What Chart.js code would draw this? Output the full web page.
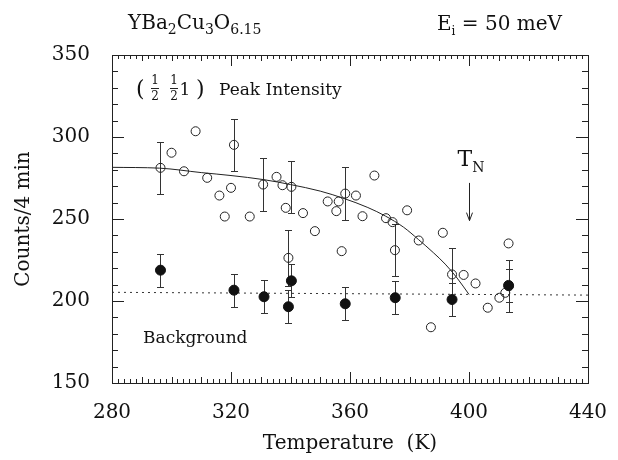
<!DOCTYPE html>
<html>
<head>
<meta charset="utf-8">
<script src="https://cdn.jsdelivr.net/npm/chart.js@4"></script>
<style>
  html, body { margin: 0; padding: 0; background: #fff; }
</style>
</head>
<body>
<canvas id="myChart" width="618" height="460"></canvas>
<script>
// Peak intensity (open circles)
const openT = [296.3, 300.0, 304.2, 308.1, 312.0, 316.1, 317.9, 320.0, 321.0, 326.3,
  330.8, 335.3, 337.3, 338.4, 339.3, 340.3, 344.2, 348.2, 352.5, 355.4,
  356.2, 357.2, 358.4, 362.0, 364.2, 368.2, 372.1, 374.3, 375.1, 379.2,
  383.1, 387.2, 391.2, 394.3, 398.2, 402.2, 406.3, 410.2, 412.2, 413.3, 413.4];
const openCounts = [281.2, 290.4, 279.1, 303.5, 275.1, 264.3, 251.5, 269.0, 295.2, 251.5,
  271.0, 275.7, 270.6, 256.8, 226.3, 269.6, 253.6, 242.6, 260.7, 254.8,
  260.7, 230.4, 265.5, 264.3, 251.7, 276.5, 250.5, 248.1, 231.0, 255.3,
  236.9, 184.0, 241.6, 216.2, 215.9, 210.7, 195.9, 202.0, 205.0, 235.1, 209.0];
const openErr = [16, 0, 0, 0, 0, 0, 0, 0, 16, 0,
  16, 0, 0, 0, 17, 16, 0, 0, 0, 0,
  0, 0, 16, 0, 0, 0, 0, 0, 16, 0,
  0, 0, 0, 16, 0, 0, 0, 0, 0, 0, 16];

// Background (filled circles)
const bgT = [296.3, 321.0, 331.1, 339.3, 340.3, 358.4, 375.2, 394.3, 413.3];
const bgCounts = [218.8, 206.6, 202.6, 196.5, 212.3, 198.3, 202.0, 200.9, 209.5];
const bgErr = [10, 10, 10, 10, 10, 10, 10, 10, 10];

// Solid fit line
const fitT = [280, 296, 310, 320, 331, 340, 350, 358, 366, 372, 378, 383, 388, 392, 396, 400];
const fitCounts = [281.5, 281.0, 278.3, 276.5, 274.0, 271.0, 267.0, 262.5, 257.0, 251.7,
  245.0, 237.5, 229.5, 222.5, 214.0, 204.0];

// Dotted background level
const baseT = [280, 440];
const baseCounts = [205.3, 203.6];

// T_N marker
const tN = 400;
const arrowCounts = [272, 249];

const serif = '"DejaVu Serif", serif';

function runText(ctx, x, base, parts) {
  parts.forEach(([s, size, dy]) => {
    ctx.font = size + 'px ' + serif;
    ctx.fillText(s, x, base + dy);
    x += ctx.measureText(s).width;
  });
}

const decor = {
  id: 'decor',
  beforeDatasetsDraw(chart) {
    const {ctx, scales: {x, y}} = chart;
    ctx.save();
    ctx.strokeStyle = '#333';
    ctx.lineWidth = 1;
    const bars = (ts, vs, es) => {
      ts.forEach((t, i) => {
        if (!es[i]) return;
        const px = Math.round(x.getPixelForValue(t)) + 0.5;
        const top = Math.round(y.getPixelForValue(vs[i] + es[i])) + 0.5;
        const bot = Math.round(y.getPixelForValue(vs[i] - es[i])) + 0.5;
        ctx.beginPath();
        ctx.moveTo(px, top); ctx.lineTo(px, bot);
        ctx.moveTo(px - 3.5, top); ctx.lineTo(px + 3.5, top);
        ctx.moveTo(px - 3.5, bot); ctx.lineTo(px + 3.5, bot);
        ctx.stroke();
      });
    };
    bars(openT, openCounts, openErr);
    bars(bgT, bgCounts, bgErr);
    ctx.restore();
  },
  afterDraw(chart) {
    const {ctx, chartArea: a, scales: {x, y}} = chart;
    ctx.save();
    ctx.strokeStyle = '#222';
    ctx.lineWidth = 1;
    ctx.strokeRect(Math.round(a.left) + 0.5, Math.round(a.top) + 0.5,
      Math.round(a.right - a.left), Math.round(a.bottom - a.top));

    // inward ticks
    ctx.beginPath();
    for (let t = 280; t <= 440; t += 2) {
      const px = Math.round(x.getPixelForValue(t)) + 0.5;
      const len = t % 40 === 0 ? 11 : (t % 10 === 0 ? 6 : 4);
      ctx.moveTo(px, a.bottom); ctx.lineTo(px, a.bottom - len);
      ctx.moveTo(px, a.top); ctx.lineTo(px, a.top + len);
    }
    for (let v = 150; v <= 350; v += 10) {
      const py = Math.round(y.getPixelForValue(v)) + 0.5;
      const len = v % 50 === 0 ? 12 : 6;
      ctx.moveTo(a.left, py); ctx.lineTo(a.left + len, py);
      ctx.moveTo(a.right, py); ctx.lineTo(a.right - len, py);
    }
    ctx.stroke();

    ctx.fillStyle = '#111';
    ctx.textBaseline = 'alphabetic';
    ctx.textAlign = 'left';

    // header
    runText(ctx, 128, 29, [['YBa', 20, 0], ['2', 14, 5], ['Cu', 20, 0], ['3', 14, 5],
      ['O', 20, 0], ['6.15', 14, 5]]);
    runText(ctx, 437, 30, [['E', 20, 0], ['i', 12, 5], [' = 50 meV', 20, 0]]);

    // (1/2 1/2 1) Peak Intensity
    ctx.font = '22px ' + serif;
    ctx.fillText('(', 136, 96);
    ctx.fillText(')', 196, 96);
    ctx.font = '12px ' + serif;
    ctx.textAlign = 'center';
    [155, 174].forEach(cx => {
      ctx.fillText('1', cx, 84);
      ctx.fillText('2', cx, 100);
      ctx.beginPath();
      ctx.moveTo(cx - 4, 88.5); ctx.lineTo(cx + 4, 88.5);
      ctx.stroke();
    });
    ctx.font = '17px ' + serif;
    ctx.fillText('1', 185, 95);
    ctx.textAlign = 'left';
    ctx.fillText('Peak Intensity', 219, 95);

    ctx.font = '17px ' + serif;
    ctx.fillText('Background', 143, 343);

    // T_N with arrow
    const ax = Math.round(x.getPixelForValue(tN)) + 0.5;
    const y0 = y.getPixelForValue(arrowCounts[0]);
    const y1 = y.getPixelForValue(arrowCounts[1]);
    runText(ctx, ax - 12, 166, [['T', 22, 0], ['N', 14, 6]]);
    ctx.beginPath();
    ctx.moveTo(ax, y0); ctx.lineTo(ax, y1);
    ctx.moveTo(ax - 3, y1 - 8); ctx.lineTo(ax, y1); ctx.lineTo(ax + 3, y1 - 8);
    ctx.stroke();
    ctx.restore();
  }
};

const ctx = document.getElementById('myChart').getContext('2d');
new Chart(ctx, {
  type: 'scatter',
  data: {
    datasets: [
      {
        label: 'Background',
        data: bgT.map((t, i) => ({x: t, y: bgCounts[i]})),
        pointRadius: 5,
        pointBackgroundColor: '#111',
        pointBorderColor: '#111',
        pointBorderWidth: 1,
        order: 0
      },
      {
        label: 'Peak Intensity',
        data: openT.map((t, i) => ({x: t, y: openCounts[i]})),
        pointRadius: 4.5,
        pointBackgroundColor: 'rgba(0,0,0,0)',
        pointBorderColor: '#222',
        pointBorderWidth: 1,
        order: 1
      },
      {
        type: 'line',
        label: 'Fit',
        data: fitT.map((t, i) => ({x: t, y: fitCounts[i]})),
        borderColor: '#222',
        borderWidth: 1,
        pointRadius: 0,
        cubicInterpolationMode: 'monotone',
        fill: false,
        order: 2
      },
      {
        type: 'line',
        label: 'Level',
        data: baseT.map((t, i) => ({x: t, y: baseCounts[i]})),
        borderColor: '#333',
        borderWidth: 1,
        borderDash: [2, 4],
        pointRadius: 0,
        fill: false,
        order: 3
      }
    ]
  },
  options: {
    responsive: false,
    animation: false,
    layout: { padding: { top: 55, right: 30, left: 0, bottom: 0 } },
    plugins: {
      legend: { display: false },
      tooltip: { enabled: false }
    },
    scales: {
      x: {
        type: 'linear',
        min: 280, max: 440,
        afterFit: s => { s.height = 77; s.paddingLeft = 0; s.paddingRight = 0; },
        grid: { display: false, drawTicks: false },
        border: { display: false },
        ticks: {
          stepSize: 40,
          padding: 18,
          color: '#111',
          font: { family: serif, size: 20 }
        },
        title: {
          display: true,
          text: 'Temperature  (K)',
          color: '#111',
          padding: { top: 0, bottom: 4 },
          font: { family: serif, size: 20 }
        }
      },
      y: {
        min: 150, max: 350,
        afterFit: s => { s.width = 112; s.paddingTop = 0; s.paddingBottom = 0; },
        grid: { display: false, drawTicks: false },
        border: { display: false },
        ticks: {
          stepSize: 50,
          padding: 22,
          color: '#111',
          font: { family: serif, size: 20 }
        },
        title: {
          display: true,
          text: 'Counts/4 min',
          color: '#111',
          padding: { top: 12, bottom: 0 },
          font: { family: serif, size: 20 }
        }
      }
    }
  },
  plugins: [decor]
});
</script>
</body>
</html>
